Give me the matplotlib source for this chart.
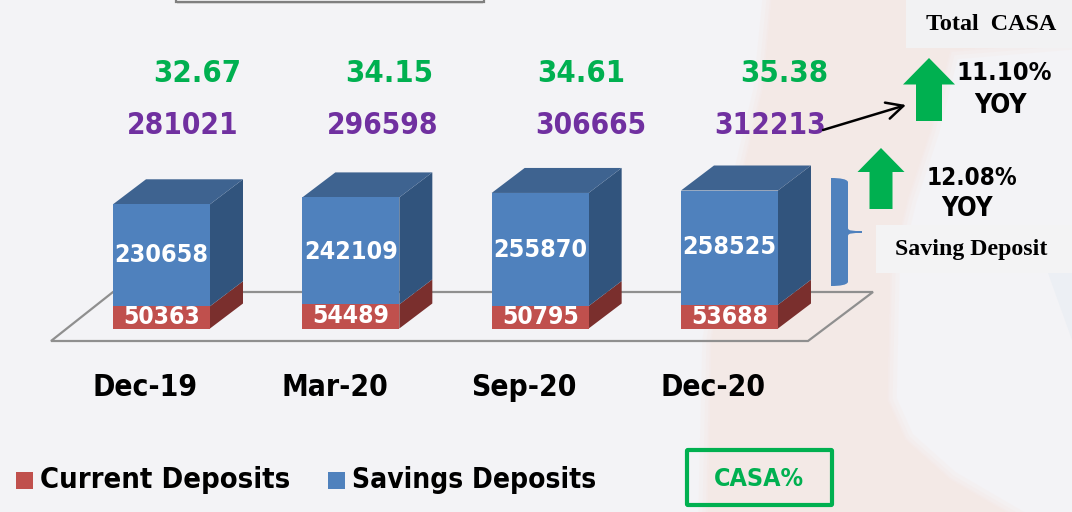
import matplotlib
matplotlib.use("Agg")
import matplotlib.pyplot as plt
from matplotlib.patches import Polygon, Rectangle, PathPatch, FancyBboxPatch
from matplotlib.path import Path

# ---------- data ----------
periods = ["Dec-19", "Mar-20", "Sep-20", "Dec-20"]
current_deposits = [50363, 54489, 50795, 53688]
savings_deposits = [230658, 242109, 255870, 258525]
total_casa = [281021, 296598, 306665, 312213]
casa_pct = ["32.67", "34.15", "34.61", "35.38"]

# ---------- layout (pixels) ----------
W, H = 1072, 512
PX_PER_UNIT = 0.000442
BASE_Y = 328.5
X0, DX = 161.5, 189.33
BAR_PX = 97
DEPTH_X, DEPTH_Y = 33, 25

RED, RED_SIDE = "#C0504D", "#7A2F2D"
BLUE, BLUE_TOP, BLUE_SIDE = "#4F81BD", "#3E6390", "#31547D"
GREEN, PURPLE = "#00B050", "#7030A0"
BG, PINK = "#F3F3F6", "#F3E9E6"

fig = plt.figure(figsize=(W / 100, H / 100), dpi=100, facecolor=BG)

px = fig.add_axes([0, 0, 1, 1], zorder=1)
px.set_xlim(0, W)
px.set_ylim(H, 0)
px.axis("off")

ax = fig.add_axes([0, 0, 1, 1], zorder=2)
ax.patch.set_alpha(0)
ax.set_xlim(-X0 / DX, (W - X0) / DX)
ax.set_ylim(-(H - BASE_Y) / PX_PER_UNIT, BASE_Y / PX_PER_UNIT)
ax.axis("off")

top = fig.add_axes([0, 0, 1, 1], zorder=3)
top.patch.set_alpha(0)
top.set_xlim(0, W)
top.set_ylim(H, 0)
top.axis("off")

# background
pink_outline = [(772, 0), (1072, 0), (1072, 40), (950, 50), (930, 130), (907, 200),
                (890, 270), (887, 400), (905, 440), (950, 480), (1005, 512),
                (708, 512), (712, 340), (737, 200), (763, 90)]
for lw, a in [(14, .25), (8, .35), (3, .5)]:
    px.add_patch(Polygon(pink_outline, closed=True, fc=PINK, ec=PINK, lw=lw, alpha=a, zorder=0))
px.add_patch(Polygon(pink_outline, closed=True, fc=PINK, ec="none", zorder=0.1))
px.add_patch(Polygon([(1048, 273), (1072, 273), (1072, 340)], closed=True, fc="#ECEFF4", ec="none", zorder=0.1))

# top shadowed box remnant
px.add_patch(Rectangle((177, -3), 306, 7, fc="#C8C8C8", ec="none", alpha=.5, zorder=1))
px.add_patch(Rectangle((176, -3), 308, 5, fc="#F1F1F2", ec="#7F7F7F", lw=1.6, zorder=1.1))

# floor
px.add_patch(Polygon([(51, 341), (808, 341), (873, 292), (113, 292)], closed=True,
                     fc="none", ec="#8F8F8F", lw=1.6, zorder=2))

# bars
dx_d = DEPTH_X / DX
dy_d = DEPTH_Y / PX_PER_UNIT
half = BAR_PX / DX / 2
for i, (c, s) in enumerate(zip(current_deposits, savings_deposits)):
    r = i + half
    l = i - half
    t = c + s
    ax.add_patch(Polygon([(r, 0), (r + dx_d, dy_d), (r + dx_d, c + dy_d), (r, c)], fc=RED_SIDE, ec="none", zorder=2))
    ax.add_patch(Polygon([(r, c), (r + dx_d, c + dy_d), (r + dx_d, t + dy_d), (r, t)], fc=BLUE_SIDE, ec="none", zorder=2))
    ax.add_patch(Polygon([(l, t), (r, t), (r + dx_d, t + dy_d), (l + dx_d, t + dy_d)], fc=BLUE_TOP, ec="none", zorder=2))
ax.bar(range(4), current_deposits, width=BAR_PX / DX, color=RED, zorder=3)
ax.bar(range(4), savings_deposits, width=BAR_PX / DX, bottom=current_deposits, color=BLUE, zorder=3)

cond = dict(family="DejaVu Sans", stretch="condensed", weight="bold", ha="center", va="center")

for i, c in enumerate(current_deposits):
    ax.text(i, c / 2, str(c), color="white", fontsize=17.7, zorder=5, **cond)
blue_label_y = [255, 252, 250, 247]
for i, s in enumerate(savings_deposits):
    top.text(X0 + DX * i, blue_label_y[i], str(s), color="white", fontsize=18, **cond)

# period labels
period_x = [145, 335, 524, 713]
for x, p in zip(period_x, periods):
    top.text(x, 388, p, color="black", fontsize=21.5, **cond)

# values above bars
green_x = [197, 389, 581, 784]
purple_x = [183, 383, 591, 770]
for x, v in zip(green_x, casa_pct):
    top.text(x, 73, v, color=GREEN, fontsize=22.2, **cond)
for x, v in zip(purple_x, total_casa):
    top.text(x, 125, str(v), color=PURPLE, fontsize=21.4, **cond)

# right-hand boxes
top.add_patch(Rectangle((906, 0), 166, 48, fc="#F2F2F3", ec="none", zorder=0))
top.add_patch(Rectangle((876, 225), 196, 48, fc="#F3F3F4", ec="none", zorder=0))
top.text(991, 25, "Total  CASA", family="Liberation Serif", weight="bold", fontsize=17.4, ha="center", va="center")
top.text(971, 250, "Saving Deposit", family="Liberation Serif", weight="bold", fontsize=17.2, ha="center", va="center")

# up arrows
def up_arrow(tip_x, tip_y, head_half, head_y, shaft_half, bottom):
    top.add_patch(Polygon([(tip_x, tip_y), (tip_x + head_half, head_y), (tip_x + shaft_half, head_y),
                           (tip_x + shaft_half, bottom), (tip_x - shaft_half, bottom),
                           (tip_x - shaft_half, head_y), (tip_x - head_half, head_y)],
                          closed=True, fc=GREEN, ec="none"))
up_arrow(929, 58, 26, 84.5, 13, 121)
up_arrow(881, 148, 23.5, 172, 11.5, 209)

top.text(1004.5, 73, "11.10%", color="black", fontsize=18.3, **cond)
top.text(1000, 106, "YOY", color="black", fontsize=19, **cond)
top.text(971.5, 178, "12.08%", color="black", fontsize=17.4, **cond)
top.text(967, 209, "YOY", color="black", fontsize=18.5, **cond)

# line arrow
top.annotate("", xy=(906, 105), xytext=(823, 130),
             arrowprops=dict(arrowstyle="->,head_length=1.2,head_width=0.6", lw=1.8, color="black",
                             shrinkA=0, shrinkB=0))

# brace
verts = [(831, 178), (840, 178), (847, 179), (848, 182), (848, 228), (848, 231), (853, 231), (862, 231),
         (862, 233), (853, 233), (848, 233), (848, 236), (848, 282), (847, 285), (840, 286), (831, 286), (831, 178)]
codes = [Path.MOVETO, Path.CURVE4, Path.CURVE4, Path.CURVE4, Path.LINETO, Path.CURVE4, Path.CURVE4, Path.CURVE4,
         Path.LINETO, Path.CURVE4, Path.CURVE4, Path.CURVE4, Path.LINETO, Path.CURVE4, Path.CURVE4, Path.CURVE4, Path.CLOSEPOLY]
top.add_patch(PathPatch(Path(verts, codes), fc=BLUE, ec="none"))

# legend
top.add_patch(Rectangle((16, 472), 17, 17, fc=RED, ec="none"))
top.add_patch(Rectangle((328, 472), 17, 17, fc=BLUE, ec="none"))
top.text(40, 480, "Current Deposits", color="black", fontsize=20.9, family="DejaVu Sans", stretch="condensed",
         weight="bold", ha="left", va="center")
top.text(352, 480, "Savings Deposits", color="black", fontsize=20.2, family="DejaVu Sans", stretch="condensed",
         weight="bold", ha="left", va="center")

# CASA% box
top.add_patch(FancyBboxPatch((687, 450), 145, 55, boxstyle="round,pad=0,rounding_size=1", fc="none", ec=GREEN, lw=3))
top.text(759, 479, "CASA%", color=GREEN, fontsize=18, **cond)

fig.savefig("out.png", dpi=100, facecolor=BG)
